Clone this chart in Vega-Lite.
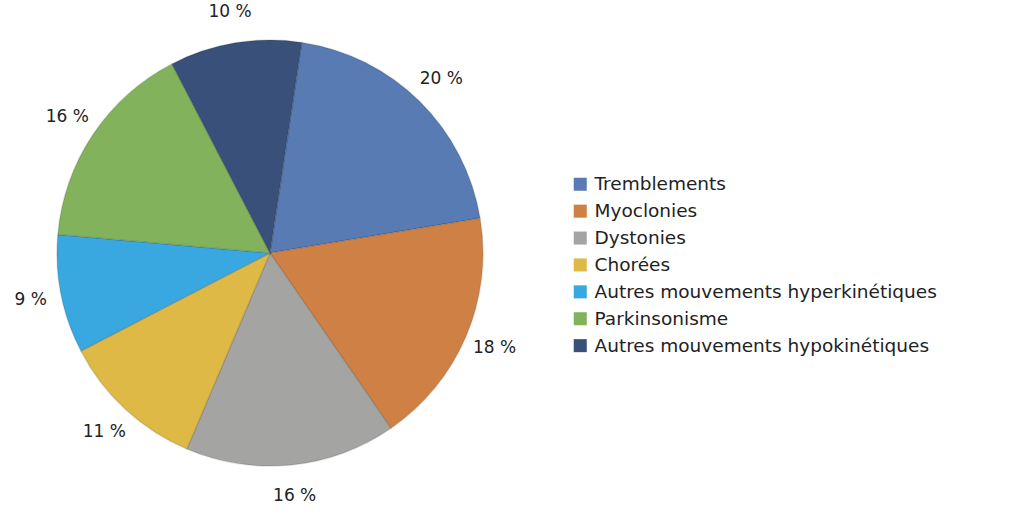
{
  "$schema": "https://vega.github.io/schema/vega-lite/v6.json",
  "width": 540,
  "height": 506,
  "padding": 0,
  "background": "white",
  "config": {"view": {"stroke": null}, "font": "DejaVu Sans"},
  "data": {"values": [
    {"categorie": "Tremblements", "valeur": 20, "ordre": 1, "etiquette": "20 %"},
    {"categorie": "Myoclonies", "valeur": 18, "ordre": 2, "etiquette": "18 %"},
    {"categorie": "Dystonies", "valeur": 16, "ordre": 3, "etiquette": "16 %"},
    {"categorie": "Chorées", "valeur": 11, "ordre": 4, "etiquette": "11 %"},
    {"categorie": "Autres mouvements hyperkinétiques", "valeur": 9, "ordre": 5, "etiquette": "9 %"},
    {"categorie": "Parkinsonisme", "valeur": 16, "ordre": 6, "etiquette": "16 %"},
    {"categorie": "Autres mouvements hypokinétiques", "valeur": 10, "ordre": 7, "etiquette": "10 %"}
  ]},
  "encoding": {
    "theta": {"field": "valeur", "type": "quantitative", "stack": true, "scale": {"range": [0.15, 6.4332]}},
    "order": {"field": "ordre", "type": "quantitative"},
    "color": {
      "field": "categorie",
      "type": "nominal",
      "sort": null,
      "scale": {
        "domain": ["Tremblements", "Myoclonies", "Dystonies", "Chorées", "Autres mouvements hyperkinétiques", "Parkinsonisme", "Autres mouvements hypokinétiques"],
        "range": ["#587BB4", "#CF8145", "#A4A5A3", "#DFB946", "#3AA8E0", "#82B25C", "#39517A"]
      },
      "legend": {
        "title": null,
        "orient": "none",
        "legendX": 571,
        "legendY": 175,
        "symbolType": "square",
        "symbolSize": 170,
        "symbolStrokeWidth": 0,
        "labelFontSize": 18.5,
        "labelFont": "DejaVu Sans",
        "labelColor": "#222222",
        "rowPadding": 7.9,
        "labelOffset": 5,
        "labelLimit": 500
      }
    }
  },
  "layer": [
    {"mark": {"type": "arc", "outerRadius": 213, "stroke": "#000000", "strokeOpacity": 0.12, "strokeWidth": 1.5}},
    {"mark": {"type": "text", "radius": 244, "fontSize": 17, "font": "DejaVu Sans", "fill": "#222222"},
     "encoding": {"text": {"field": "etiquette", "type": "nominal"}, "color": {"value": "#222222"}}}
  ]
}
